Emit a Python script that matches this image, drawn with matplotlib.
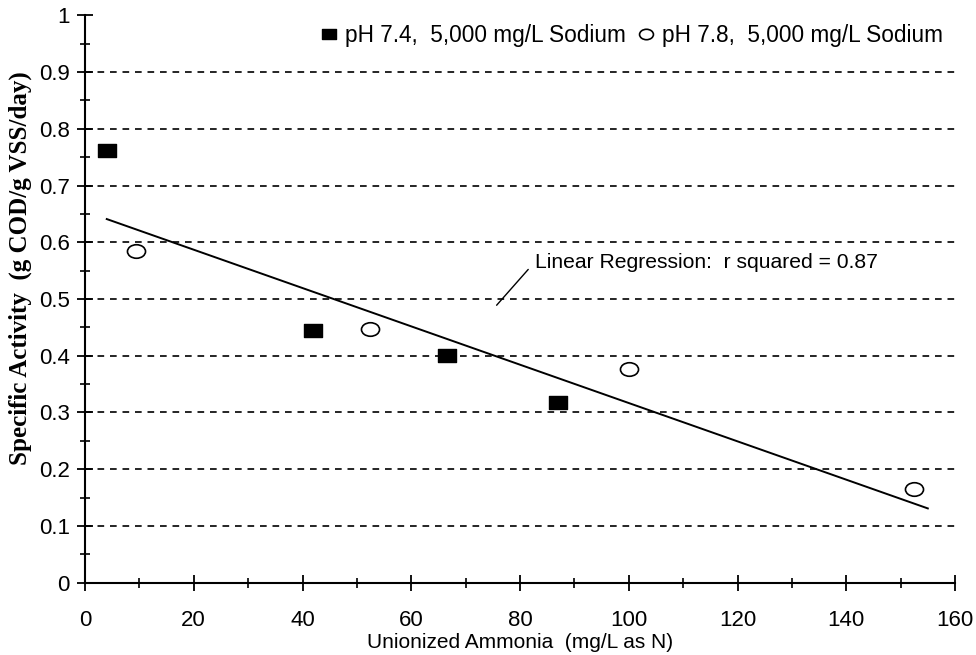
import numpy as np
import matplotlib
matplotlib.use("Agg")
import matplotlib.pyplot as plt
from matplotlib.path import Path
from matplotlib.lines import Line2D

# Unionized ammonia (mg/L as N) and specific activity (g COD/g VSS/day)
nh3_ph74 = [4.0, 42.0, 66.5, 87.0]
act_ph74 = [0.762, 0.445, 0.402, 0.318]
nh3_ph78 = [9.3, 52.5, 100.0, 152.5]
act_ph78 = [0.585, 0.447, 0.376, 0.165]
fit_range = [4.0, 155.0]

label_74 = "pH 7.4,  5,000 mg/L Sodium"
label_78 = "pH 7.8,  5,000 mg/L Sodium"

plt.rcParams['font.family'] = ['Liberation Sans', 'DejaVu Sans']

# Linear regression through all points
x_all = np.array(nh3_ph74 + nh3_ph78)
y_all = np.array(act_ph74 + act_ph78)
slope, intercept = np.polyfit(x_all, y_all, 1)
r2 = np.corrcoef(x_all, y_all)[0, 1] ** 2

# Slightly flattened markers
sq = Path([(-1, -0.72), (1, -0.72), (1, 0.72), (-1, 0.72), (-1, -0.72)],
          [Path.MOVETO, Path.LINETO, Path.LINETO, Path.LINETO, Path.CLOSEPOLY])
circ = Path.unit_circle()
ell = Path(circ.vertices * np.array([1.0, 0.75]), circ.codes)

fig = plt.figure(figsize=(9.76, 6.55), dpi=100)
ax = fig.add_axes([85 / 976, 1 - 582.7 / 655, (955 - 85) / 976, (582.7 - 15.3) / 655])

ax.set_xlim(0, 160)
ax.set_ylim(0, 1)

# Dashed horizontal grid
for gy in np.arange(0.1, 0.95, 0.1):
    ax.axhline(gy, color='black', lw=1.2, ls=(0, (4, 3.5)), zorder=1)

fx = np.array(fit_range)
ax.plot(fx, intercept + slope * fx, color='black', lw=1.4, zorder=2)

ax.plot(nh3_ph74, act_ph74, ls='none', marker=sq, ms=13, mfc='black', mec='black', zorder=3)
ax.plot(nh3_ph78, act_ph78, ls='none', marker=ell, ms=13, mfc='white', mec='black', mew=1.2, zorder=3)

ax.annotate(f"Linear Regression:  r squared = {r2:.2f}",
            xy=(75.7, 0.489), xytext=(82.7, 0.565), ha='left', va='center',
            fontsize=15.2,
            arrowprops=dict(arrowstyle='-', color='black', lw=1.0,
                            shrinkA=4, shrinkB=0, relpos=(0, 0.5)))

for side in ['top', 'right']:
    ax.spines[side].set_visible(False)
for side in ['left', 'bottom']:
    ax.spines[side].set_linewidth(1.5)

ax.set_xticks(np.arange(0, 161, 20))
ax.set_xticks(np.arange(10, 161, 20), minor=True)
ax.set_yticks(np.round(np.arange(0, 1.01, 0.1), 1))
ax.set_yticks(np.arange(0.05, 1.0, 0.1), minor=True)
ax.set_yticklabels(['0', '0.1', '0.2', '0.3', '0.4', '0.5', '0.6', '0.7', '0.8', '0.9', '1'])

ax.tick_params(axis='both', which='major', direction='inout', length=11, width=1.3, labelsize=16)
ax.tick_params(axis='both', which='minor', direction='inout', length=7, width=1.2)
ax.tick_params(axis='y', which='major', pad=5.5)
ax.tick_params(axis='x', which='major', pad=14)

ax.set_xlabel("Unionized Ammonia  (mg/L as N)", fontsize=15, labelpad=1.5)
ax.set_ylabel("Specific Activity  (g COD/g VSS/day)", fontsize=18,
              family=['Liberation Serif'], fontweight='bold')
ax.yaxis.set_label_coords(-0.0605, 0.555)

handles = [
    Line2D([], [], ls='none', marker=sq, ms=10, mfc='black', mec='black'),
    Line2D([], [], ls='none', marker=ell, ms=10, mfc='white', mec='black', mew=1.2),
]
fig.legend(handles, [label_74, label_78], loc='center left',
           bbox_to_anchor=(317.7 / 976, 1 - 35.5 / 655), ncol=2, frameon=False,
           fontsize=16.3, handlelength=1.0, handletextpad=0.22, columnspacing=0.38,
           borderaxespad=0, borderpad=0)

fig.savefig("out.png", dpi=100, facecolor='white')
